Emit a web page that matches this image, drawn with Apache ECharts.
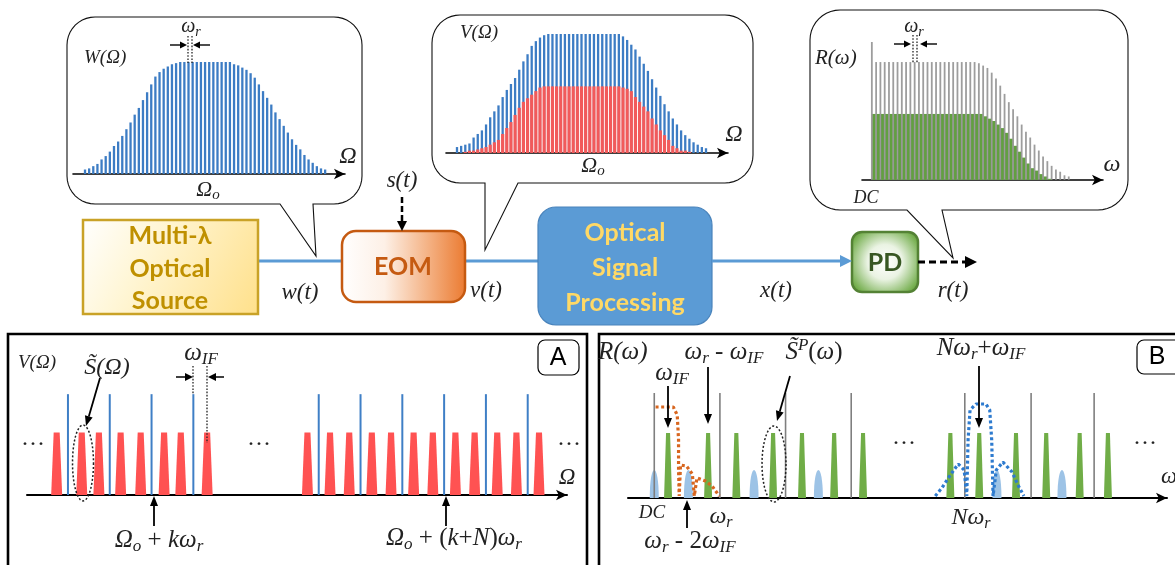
<!DOCTYPE html>
<html><head><meta charset="utf-8">
<script src="https://cdn.jsdelivr.net/npm/echarts@6/dist/echarts.min.js"></script>
<style>html,body{margin:0;padding:0;background:#fff}#c{width:1175px;height:565px}</style>
</head><body><div id="c"></div>
<script>
// ---------- DATA ----------
// Inset W(Ω): comb line heights (normalised)
const wComb = [0.04,0.05,0.07,0.09,0.13,0.16,0.20,0.25,0.29,0.34,0.40,0.46,0.53,0.59,0.66,0.73,0.80,0.87,0.91,0.94,0.96,0.98,0.99,1.0,
  1.0,1.0,1.0,1.0,1.0,1.0,1.0,1.0,1.0,1.0,1.0,1.0,
  0.98,0.97,0.95,0.93,0.90,0.86,0.80,0.74,0.68,0.62,0.55,0.49,0.43,0.37,0.31,0.26,0.22,0.17,0.13,0.10,0.07,0.05,0.04];
// Inset V(Ω): optical carriers (blue) and modulation sidebands (red)
const vCarrier = [0.05,0.06,0.07,0.08,0.13,0.16,0.19,0.24,0.30,0.35,0.40,0.47,0.53,0.58,0.63,0.70,0.77,0.83,0.90,0.94,0.97,0.99,
  1.0,1.0,1.0,1.0,1.0,1.0,1.0,1.0,1.0,1.0,1.0,1.0,1.0,1.0,1.0,1.0,1.0,1.0,
  0.98,0.95,0.91,0.87,0.81,0.75,0.69,0.62,0.55,0.48,0.41,0.35,0.29,0.24,0.19,0.15,0.12,0.09,0.07,0.05,0.04];
const vSideband = [0,0,0.01,0.02,0.02,0.03,0.04,0.05,0.07,0.09,0.11,0.16,0.21,0.26,0.32,0.38,0.43,0.46,0.49,0.52,0.55,0.56,
  0.56,0.56,0.56,0.56,0.56,0.56,0.56,0.56,0.56,0.56,0.56,0.56,0.56,0.56,0.56,0.56,0.56,0.56,
  0.55,0.54,0.52,0.47,0.43,0.39,0.35,0.29,0.24,0.19,0.15,0.11,0.06,0.04,0.02,0.02,0.01,0,0,0,0];
// Inset R(ω): RF tones (gray, first = DC) and signal copies (green)
const rTone = [1.17,1.0,1.0,1.0,1.0,1.0,1.0,1.0,1.0,1.0,1.0,1.0,1.0,1.0,1.0,1.0,1.0,1.0,1.0,1.0,1.0,1.0,1.0,1.0,1.0,
  0.99,0.97,0.95,0.91,0.86,0.80,0.73,0.66,0.60,0.54,0.47,0.41,0.36,0.30,0.25,0.20,0.16,0.12,0.09,0.07,0.04,0.03];
const rSignal = [0.56,0.56,0.56,0.56,0.56,0.56,0.56,0.56,0.56,0.56,0.56,0.56,0.56,0.56,0.56,0.56,0.56,0.56,0.56,0.56,0.56,0.56,0.56,0.56,0.56,
  0.56,0.54,0.52,0.50,0.47,0.44,0.40,0.35,0.29,0.24,0.19,0.14,0.10,0.08,0.05,0.03,0.01,0,0,0,0];
// Panel A (units of ω_r, k-th carrier at 2)
const aCarrierX = [0,1,2,3,6,7,8,9,10,11];
const aCarrierLevel = 1.0;
const aSidebandX = [-0.27,0.33,0.74,1.26,1.74,2.30,2.70,3.33,5.73,6.27,6.73,7.27,7.73,8.27,8.73,9.27,9.73,10.27,10.73,11.27];
const aSidebandLevel = 0.62;
// Panel B (units of ω_r, DC at 0)
const bToneX = [0,1,2,3,4.73,5.74,6.70];
const bToneLevel = 1.05;
const bSignalX = [0.21,0.82,1.25,1.81,2.25,2.74,3.18,4.51,4.95,5.51,5.97,6.48,6.91];
const bSignalLevel = 0.65;
const bImageX = [0,0.52,1.52,2.50,5.22,6.21];
const bImageLevel = 0.28;
const bLowpass = [[0.02,0.91],[0.29,0.91],[0.35,0.83],[0.37,0.58],[0.37,0.28],[0.38,0.02],[0.40,0.33],[0.49,0.32],[0.58,0.24],[0.61,0.02],[0.65,0.20],[0.78,0.17],[0.88,0.12],[0.99,0.02]];
const bBandpass = [[4.28,0.02],[4.38,0.10],[4.51,0.23],[4.63,0.34],[4.72,0.28],[4.76,0.02],[4.78,0.58],[4.81,0.88],[4.90,0.94],[5.05,0.94],[5.11,0.88],[5.14,0.58],[5.16,0.02],[5.21,0.28],[5.31,0.36],[5.45,0.26],[5.54,0.13],[5.63,0.02]];

// ---------- RENDER HELPERS ----------
const SERIF = "'Liberation Serif','Times New Roman',serif";
const SANSB = "Lato,'Open Sans','Liberation Sans',sans-serif";
function bars(w, color){
  return function(p, api){
    const x = api.value(0), v = api.value(1);
    const a = api.coord([x,0]), b = api.coord([x,v]);
    return {type:'rect', shape:{x:a[0]-w/2, y:b[1], width:w, height:a[1]-b[1]}, style:{fill:color}};
  };
}
function traps(wb, wt, color){
  return function(p, api){
    const x = api.value(0), v = api.value(1);
    const a = api.coord([x,0]), b = api.coord([x,v]);
    return {type:'polygon', shape:{points:[[a[0]-wb/2,a[1]],[a[0]-wt/2,b[1]],[a[0]+wt/2,b[1]],[a[0]+wb/2,a[1]]]}, style:{fill:color}};
  };
}
function humps(w, color){
  return function(p, api){
    const x = api.value(0), v = api.value(1);
    const a = api.coord([x,0]), b = api.coord([x,v]);
    const cy = a[1] - (a[1]-b[1])/0.75;
    return {type:'bezierCurve', shape:{x1:a[0]-w/2,y1:a[1],x2:a[0]+w/2,y2:a[1],cpx1:a[0]-w/2,cpy1:cy,cpx2:a[0]+w/2,cpy2:cy}, style:{fill:color, stroke:null}};
  };
}
function xAx(grid, min, max, lw){
  return {type:'value', gridIndex:grid, min, max, axisLine:{show:true, onZero:true, symbol:['none','arrow'], symbolSize:[8,11], lineStyle:{color:'#000', width:lw}},
    axisTick:{show:false}, axisLabel:{show:false}, splitLine:{show:false}};
}
function yAx(grid, max){ return {type:'value', gridIndex:grid, min:0, max, show:false}; }

function rich(size){
  const base = {fontFamily:SERIF, fontStyle:'italic', fontSize:size, fill:'#222', color:'#222'};
  return {
    i: base,
    n: Object.assign({}, base, {fontStyle:'normal'}),
    s: Object.assign({}, base, {fontSize:Math.round(size*0.68), padding:[Math.round(size*0.5),0,0,0]}),
    u: Object.assign({}, base, {fontSize:Math.round(size*0.68), padding:[0,0,Math.round(size*0.5),0]})
  };
}
function T(text, x, y, size, align){
  return {type:'text', x, y, z:100, style:{text, rich:rich(size), fontFamily:SERIF, fontStyle:'italic', fontSize:size, fill:'#222',
    align:align||'center', verticalAlign:'middle', textAlign:align||'center', textVerticalAlign:'middle'}};
}
function B(text, x, y, color, size){
  return {type:'text', x, y, z:100, style:{text, fontFamily:SANSB, fontWeight:'bold', fontSize:size||25, fill:color,
    align:'center', verticalAlign:'middle', textAlign:'center', textVerticalAlign:'middle'}};
}
function arrow(x1,y1,x2,y2,o){
  o = o||{};
  const c=o.color||'#000', w=o.width||1.6, L=o.head||9, H=o.half||4;
  const dx=x2-x1, dy=y2-y1, len=Math.hypot(dx,dy), ux=dx/len, uy=dy/len;
  const bx=x2-ux*L, by=y2-uy*L;
  return [
    {type:'line', z:100, shape:{x1,y1,x2:bx,y2:by}, style:{stroke:c, lineWidth:w, lineDash:o.dash||null}},
    {type:'polygon', z:100, shape:{points:[[x2,y2],[bx-uy*H,by+ux*H],[bx+uy*H,by-ux*H]]}, style:{fill:c}}
  ];
}
function dotted(x1,y1,x2,y2){
  return {type:'line', z:100, shape:{x1,y1,x2,y2}, style:{stroke:'#222', lineWidth:1.3, lineDash:[1.6,1.6]}};
}
function arcPts(cx,cy,r,a0,a1){
  const pts=[]; const n=10;
  for(let k=0;k<=n;k++){ const a=a0+(a1-a0)*k/n; pts.push([cx+r*Math.cos(a), cy+r*Math.sin(a)]); }
  return pts;
}
function bubble(x0,y0,x1,y1,r,pa,pb,tx,ty){
  const P = Math.PI;
  let pts = [];
  pts = pts.concat(arcPts(x0+r,y0+r,r,P,1.5*P));
  pts = pts.concat(arcPts(x1-r,y0+r,r,1.5*P,2*P));
  pts = pts.concat(arcPts(x1-r,y1-r,r,0,0.5*P));
  pts.push([pb,y1],[tx,ty],[pa,y1]);
  pts = pts.concat(arcPts(x0+r,y1-r,r,0.5*P,P));
  return {type:'polygon', z:0, shape:{points:pts}, style:{fill:'#fff', stroke:'#111', lineWidth:1.1}};
}
function ellipse(cx,cy,rx,ry){
  const pts=[]; const n=48;
  for(let k=0;k<n;k++){ const a=2*Math.PI*k/n; pts.push([cx+rx*Math.cos(a), cy+ry*Math.sin(a)]); }
  return {type:'polygon', z:100, shape:{points:pts}, style:{fill:'none', stroke:'#222', lineWidth:1.5, lineDash:[2,2]}};
}

// ---------- GRAPHIC ----------
let G = [];
G.push(bubble(67,17,362,204,28,280,313,316,256));
G.push(bubble(432,15,753,183,28,485,518,485,250));
G.push(bubble(810,10,1128,210,30,907,942,953,258));
G.push({type:'line', z:1, shape:{x1:258,y1:261,x2:342,y2:261}, style:{stroke:'#5B9BD5', lineWidth:3}});
G.push({type:'line', z:1, shape:{x1:465,y1:261,x2:538,y2:261}, style:{stroke:'#5B9BD5', lineWidth:3}});
G = G.concat(arrow(712,261,852,261,{color:'#5B9BD5', width:3, head:12, half:6}));
G = G.concat(arrow(402,197,402,231,{width:2.5, dash:[6,3], head:10, half:5}));
G = G.concat(arrow(918,262,977,262,{width:3, dash:[7,4], head:12, half:6}));
G.push({type:'rect', z:2, shape:{x:83,y:220,width:175,height:94}, style:{fill:{type:'linear',x:0,y:0,x2:1,y2:1,colorStops:[{offset:0,color:'#FFFFFF'},{offset:0.35,color:'#FFF6D6'},{offset:1,color:'#FFE08A'}]}, stroke:'#C9A227', lineWidth:2.5}});
G.push({type:'rect', z:2, shape:{x:342,y:231,width:123,height:71,r:14}, style:{fill:{type:'linear',x:0,y:0,x2:1,y2:0,colorStops:[{offset:0,color:'#FFFFFF'},{offset:0.35,color:'#FDF0E6'},{offset:0.7,color:'#F4B183'},{offset:1,color:'#EB7A30'}]}, stroke:'#C55A11', lineWidth:2.5}});
G.push({type:'rect', z:2, shape:{x:538,y:207,width:174,height:118,r:18}, style:{fill:'#5B9BD5', stroke:'#4A84BC', lineWidth:1.2}});
G.push({type:'rect', z:2, shape:{x:852,y:232,width:66,height:60,r:10}, style:{fill:{type:'radial',x:0.5,y:0.5,r:0.62,colorStops:[{offset:0,color:'#FFFFFF'},{offset:0.45,color:'#EAF3E3'},{offset:1,color:'#6FAB47'}]}, stroke:'#548235', lineWidth:2.5}});
G.push(B('Multi-λ',170,236,'#BF9000'), B('Optical',170,269,'#BF9000'), B('Source',170,301,'#BF9000'));
G.push(B('EOM',403,267,'#C55A11'));
G.push(B('Optical',625,233,'#FFD966'), B('Signal',625,268,'#FFD966'), B('Processing',625,303,'#FFD966'));
G.push(B('PD',885,263,'#385723'));
G.push(T('{i|w(t)}',300,293,23), T('{i|v(t)}',486,291,23), T('{i|x(t)}',776,291,23), T('{i|r(t)}',953,291,23), T('{i|s(t)}',402,181,23));
G.push(T('{i|W(Ω)}',84,58,19,'left'));
G.push(T('{i|ω}{s|r}',191,27,20));
G = G.concat(arrow(170,45,187,45,{width:1.4,head:7,half:3.5}), arrow(210,45,193,45,{width:1.4,head:7,half:3.5}));
G.push(dotted(188,36,188,63), dotted(192,36,192,63));
G.push(T('{i|Ω}',348,157,24), T('{i|Ω}{s|o}',208,190,22));
G.push(T('{i|V(Ω)}',460,33,19,'left'));
G.push(T('{i|Ω}',734,135,24), T('{i|Ω}{s|o}',593,166,22));
G.push(T('{i|R(ω)}',815,58,21,'left'));
G.push(T('{i|ω}{s|r}',914,27,20));
G = G.concat(arrow(894,44,911,44,{width:1.4,head:7,half:3.5}), arrow(937,44,920,44,{width:1.4,head:7,half:3.5}));
G.push(dotted(913,35,913,63), dotted(917,35,917,63));
G.push(T('{i|ω}',1112,165,24), T('{i|DC}',866,198,18));
G.push({type:'rect', z:5, shape:{x:8,y:334,width:579,height:245}, style:{fill:'none', stroke:'#000', lineWidth:2.6}});
G.push({type:'rect', z:5, shape:{x:599,y:334,width:590,height:245}, style:{fill:'none', stroke:'#000', lineWidth:2.6}});
G.push({type:'rect', z:5, shape:{x:538,y:340,width:41,height:35,r:7}, style:{fill:'#fff', stroke:'#000', lineWidth:1.2}});
G.push({type:'rect', z:5, shape:{x:1137,y:340,width:45,height:34,r:7}, style:{fill:'#fff', stroke:'#000', lineWidth:1.2}});
G.push({type:'text', x:558, y:358, z:100, style:{text:'A', fontFamily:"'Liberation Sans',sans-serif", fontSize:25, fill:'#000', align:'center', verticalAlign:'middle', textAlign:'center', textVerticalAlign:'middle'}});
G.push({type:'text', x:1157, y:357, z:100, style:{text:'B', fontFamily:"'Liberation Sans',sans-serif", fontSize:25, fill:'#000', align:'center', verticalAlign:'middle', textAlign:'center', textVerticalAlign:'middle'}});
// panel A
G.push(T('{i|V(Ω)}',18,363,19,'left'));
G.push(T('{i|S̃(Ω)}',107,368,24));
G.push(T('{i|ω}{s|IF}',201,353,25));
G = G.concat(arrow(100,378,86,426,{width:1.8,head:10,half:4}));
G.push(ellipse(83,463,10.5,38));
G = G.concat(arrow(176,377,193,377,{width:1.5,head:8,half:4}), arrow(224,377,208,377,{width:1.5,head:8,half:4}));
G.push(dotted(193,366,193,394), dotted(207,366,207,443));
G.push(T('{n|···}',33,445,24), T('{n|···}',259,445,24), T('{n|···}',569,445,24));
G = G.concat(arrow(154,526,154,496,{width:1.8,head:10,half:4}), arrow(446,526,446,496,{width:1.8,head:10,half:4}));
G.push(T('{i|Ω}{s|o}{n| + }{i|kω}{s|r}',159,540,25));
G.push(T('{i|Ω}{s|o}{n| + (}{i|k}{n|+}{i|N}{n|)}{i|ω}{s|r}',454,538,25));
G.push(T('{i|Ω}',567,478,23));
// panel B
G.push(T('{i|R(ω)}',598,352,25,'left'));
G.push(T('{i|ω}{s|IF}',672,373,25));
G = G.concat(arrow(668,386,668,428,{width:1.8,head:10,half:4}));
G.push(T('{i|ω}{s|r}{n| - }{i|ω}{s|IF}',724,352,25));
G = G.concat(arrow(708,367,708,424,{width:1.8,head:10,half:4}));
G.push(T('{i|S̃}{u|P}{n|(}{i|ω}{n|)}',814,352,25));
G = G.concat(arrow(790,376,777,421,{width:1.8,head:10,half:4}));
G.push(ellipse(774,464,12,38));
G.push(T('{i|DC}',652,513,19));
G.push(T('{i|ω}{s|r}',721,517,24));
G = G.concat(arrow(687,528,687,500,{width:1.8,head:10,half:4}));
G.push(T('{i|ω}{s|r}{n| - 2}{i|ω}{s|IF}',690,541,25));
G.push(T('{n|···}',904,444,24), T('{n|···}',1145,444,24));
G.push(T('{i|Nω}{s|r}{n|+}{i|ω}{s|IF}',981,348,25));
G = G.concat(arrow(979,366,979,428,{width:1.8,head:10,half:4}));
G.push(T('{i|Nω}{s|r}',971,518,24));
G.push(T('{i|ω}',1169,477,23));

// ---------- CHART ----------
const chart = echarts.init(document.getElementById('c'), null, {renderer:'canvas'});
chart.setOption({
  animation:false,
  backgroundColor:'#fff',
  grid:[
    {left:73, top:62, width:272, height:112},
    {left:446, top:34, width:282, height:119},
    {left:862, top:42, width:241, height:138},
    {left:27, top:374, width:540, height:121},
    {left:628, top:378, width:539, height:120}
  ],
  xAxis:[xAx(0,-2.9,62.8,1.6), xAx(1,-2.65,65.3,1.6), xAx(2,-2.3,54.0,1.6), xAx(3,-0.98,11.94,2), xAx(4,-0.40,7.81,2)],
  yAxis:[yAx(0,1), yAx(1,1), yAx(2,1.17), yAx(3,1.2), yAx(4,1.2)],
  graphic:{elements:G},
  series:[
    {type:'custom', xAxisIndex:0, yAxisIndex:0, z:10, data:wComb.map((v,i)=>[i,v]), renderItem:bars(2.3,'#3C7CC4')},
    {type:'custom', xAxisIndex:1, yAxisIndex:1, z:10, data:vCarrier.map((v,i)=>[i,v]), renderItem:bars(2.3,'#3C7CC4')},
    {type:'custom', xAxisIndex:1, yAxisIndex:1, z:11, data:vSideband.map((v,i)=>[i,v]), renderItem:bars(3.2,'#F25A5A')},
    {type:'custom', xAxisIndex:2, yAxisIndex:2, z:10, data:rSignal.map((v,j)=>[j+0.5,v]), renderItem:bars(3.4,'#62A040')},
    {type:'custom', xAxisIndex:2, yAxisIndex:2, z:11, data:rTone.map((v,i)=>[i,v]), renderItem:bars(1.8,'rgba(140,140,140,0.85)')},
    {type:'custom', xAxisIndex:3, yAxisIndex:3, z:10, data:aCarrierX.map(x=>[x,aCarrierLevel]), renderItem:bars(2,'#3F7FC6')},
    {type:'custom', xAxisIndex:3, yAxisIndex:3, z:11, data:aSidebandX.map(x=>[x,aSidebandLevel]), renderItem:traps(11,6,'#FF5252')},
    {type:'custom', xAxisIndex:4, yAxisIndex:4, z:10, data:bImageX.map(x=>[x,bImageLevel]), renderItem:humps(9,'#9DC3E6')},
    {type:'custom', xAxisIndex:4, yAxisIndex:4, z:11, data:bToneX.map(x=>[x,bToneLevel]), renderItem:bars(1.6,'#7F7F7F')},
    {type:'custom', xAxisIndex:4, yAxisIndex:4, z:12, data:bSignalX.map(x=>[x,bSignalLevel]), renderItem:traps(8,4,'#70AD47')},
    {type:'line', xAxisIndex:4, yAxisIndex:4, z:13, data:bLowpass, symbol:'none', lineStyle:{color:'#D8661F', width:3.2, type:[3,2.6]}},
    {type:'line', xAxisIndex:4, yAxisIndex:4, z:13, data:bBandpass, symbol:'none', lineStyle:{color:'#2E7BCF', width:3.2, type:[3,2.6]}}
  ]
});
</script>
</body></html>
